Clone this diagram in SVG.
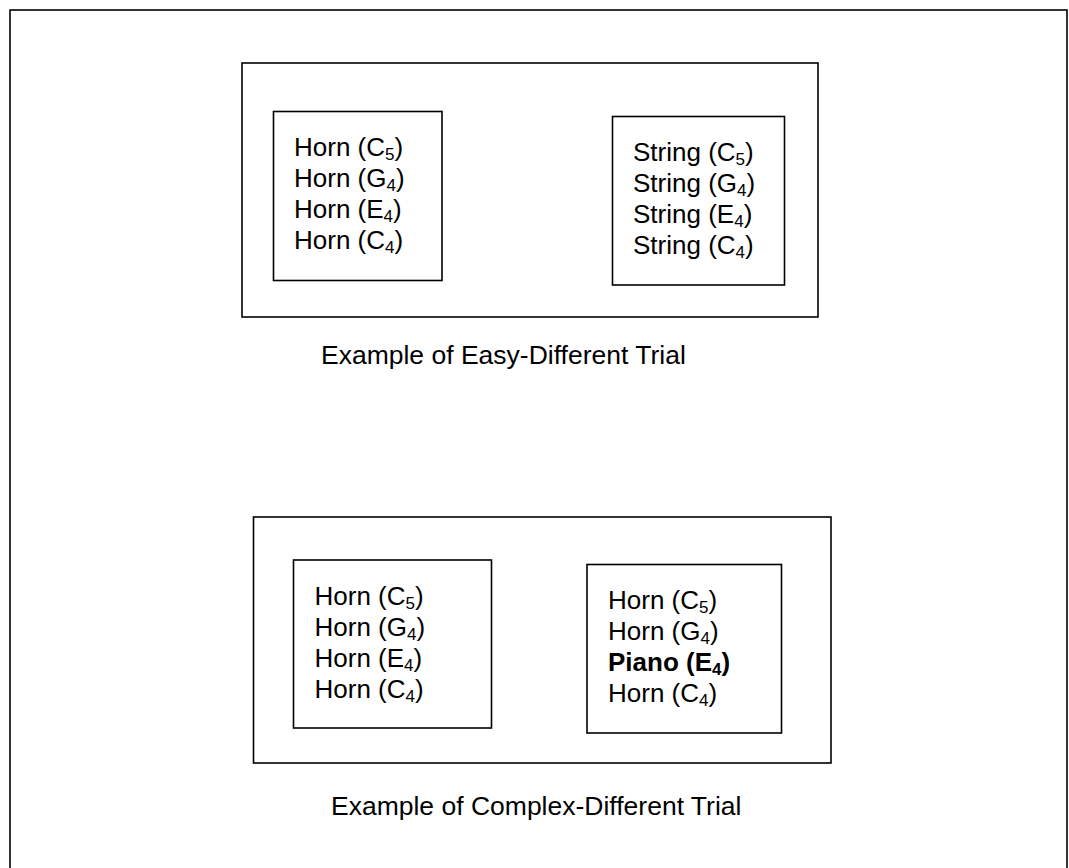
<svg xmlns="http://www.w3.org/2000/svg" width="1069" height="868" viewBox="0 0 1069 868">
<style>
.box{fill:none;stroke:#000;stroke-width:1.6}
.t{font-family:"Liberation Sans",Arial,sans-serif;font-size:26px;fill:#000}
.c{font-size:26.5px}
.b{font-weight:bold}
.s{font-size:17px}
</style>
<rect x="0" y="0" width="1069" height="868" fill="#fff"/>
<g id="frame"><rect class="box" x="10" y="10" width="1057" height="880"/></g>
<g id="trial-easy">
  <rect class="box" x="242" y="63" width="576" height="254"/>
</g>
<g id="easy-left">
  <rect class="box" x="273.5" y="111.5" width="168.5" height="169"/>
  <text class="t" x="294" y="156">Horn (C<tspan class="s" dy="4">5</tspan><tspan dy="-4">)</tspan></text>
  <text class="t" x="294" y="187">Horn (G<tspan class="s" dy="4">4</tspan><tspan dy="-4">)</tspan></text>
  <text class="t" x="294" y="218">Horn (E<tspan class="s" dy="4">4</tspan><tspan dy="-4">)</tspan></text>
  <text class="t" x="294" y="249">Horn (C<tspan class="s" dy="4">4</tspan><tspan dy="-4">)</tspan></text>
</g>
<g id="easy-right">
  <rect class="box" x="612.5" y="116.5" width="172" height="168.5"/>
  <text class="t" x="633" y="161">String (C<tspan class="s" dy="4">5</tspan><tspan dy="-4">)</tspan></text>
  <text class="t" x="633" y="192">String (G<tspan class="s" dy="4">4</tspan><tspan dy="-4">)</tspan></text>
  <text class="t" x="633" y="223">String (E<tspan class="s" dy="4">4</tspan><tspan dy="-4">)</tspan></text>
  <text class="t" x="633" y="254">String (C<tspan class="s" dy="4">4</tspan><tspan dy="-4">)</tspan></text>
</g>
<g id="caption-easy"><text class="t c" x="321" y="364">Example of Easy-Different Trial</text></g>
<g id="trial-complex">
  <rect class="box" x="253.5" y="517" width="577.5" height="246"/>
</g>
<g id="complex-left">
  <rect class="box" x="293.5" y="560" width="198" height="168"/>
  <text class="t" x="314.5" y="605">Horn (C<tspan class="s" dy="4">5</tspan><tspan dy="-4">)</tspan></text>
  <text class="t" x="314.5" y="636">Horn (G<tspan class="s" dy="4">4</tspan><tspan dy="-4">)</tspan></text>
  <text class="t" x="314.5" y="667">Horn (E<tspan class="s" dy="4">4</tspan><tspan dy="-4">)</tspan></text>
  <text class="t" x="314.5" y="698">Horn (C<tspan class="s" dy="4">4</tspan><tspan dy="-4">)</tspan></text>
</g>
<g id="complex-right">
  <rect class="box" x="587" y="564.5" width="194.5" height="168.5"/>
  <text class="t" x="608" y="609">Horn (C<tspan class="s" dy="4">5</tspan><tspan dy="-4">)</tspan></text>
  <text class="t" x="608" y="640">Horn (G<tspan class="s" dy="4">4</tspan><tspan dy="-4">)</tspan></text>
  <text class="t b" x="608" y="671">Piano (E<tspan class="s" dy="4">4</tspan><tspan dy="-4">)</tspan></text>
  <text class="t" x="608" y="702">Horn (C<tspan class="s" dy="4">4</tspan><tspan dy="-4">)</tspan></text>
</g>
<g id="caption-complex"><text class="t c" x="331" y="815">Example of Complex-Different Trial</text></g>
<g id="connectors"/>
</svg>
